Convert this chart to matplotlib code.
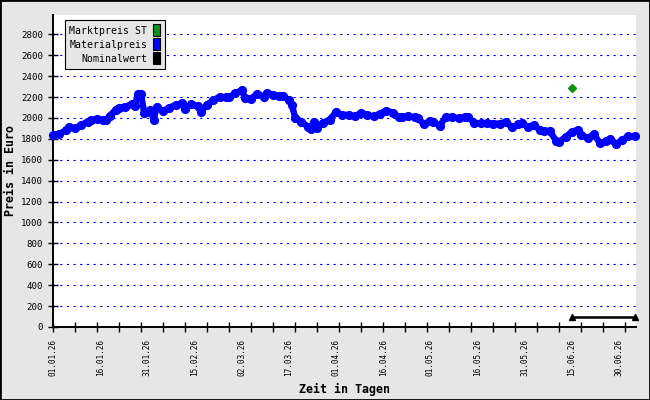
import matplotlib
matplotlib.use('Agg')
import matplotlib.pyplot as plt
from matplotlib.patches import Patch, Rectangle

# days counted from 01.01.26
days = [0, 2, 4, 5, 7, 9, 11, 12, 14, 16, 17, 18, 20, 21, 23, 25, 26, 27, 28, 29,
        30, 31, 32, 33, 35, 37, 39, 41, 42, 44, 46, 47, 49, 51, 53, 55, 56, 58, 60, 61,
        63, 65, 67, 68, 70, 72, 73, 75, 76, 77, 79, 81, 82, 83, 84, 86, 88, 90, 92, 94,
        96, 98, 100, 102, 104, 106, 108, 110, 111, 113, 115, 116, 118, 120, 121, 123, 125, 127, 129, 131,
        132, 134, 136, 138, 140, 142, 144, 146, 148, 149, 151, 153, 155, 156, 158, 160, 161, 163, 165, 167,
        168, 170, 172, 174, 176, 177, 179, 181, 183, 185]
material = [1838, 1848, 1880, 1911, 1901, 1933, 1965, 1981, 1987, 1984, 1981, 2020, 2080, 2100, 2108, 2133, 2114, 2225, 2229, 2048,
            2060, 2076, 1981, 2108, 2065, 2100, 2124, 2140, 2082, 2133, 2110, 2060, 2128, 2171, 2203, 2197, 2200, 2235, 2267, 2195,
            2185, 2232, 2203, 2241, 2222, 2212, 2210, 2171, 2124, 2003, 1965, 1917, 1892, 1965, 1908, 1956, 1984, 2055, 2027, 2030,
            2014, 2050, 2025, 2016, 2042, 2070, 2052, 2008, 2012, 2016, 2006, 2000, 1940, 1974, 1962, 1927, 2012, 2005, 1998, 2008,
            2010, 1950, 1948, 1948, 1946, 1946, 1962, 1910, 1940, 1952, 1916, 1932, 1880, 1876, 1876, 1780, 1771, 1819, 1867, 1889,
            1840, 1806, 1844, 1756, 1780, 1795, 1750, 1787, 1825, 1826]

markt_days = [165]
markt_price = [2290]

nominal_days = [165, 185.2]
nominal_value = [100, 100]

label_days = [0, 15, 30, 45, 60, 75, 90, 105, 120, 135, 150, 165, 180]
date_labels = ['01.01.26', '16.01.26', '31.01.26', '15.02.26', '02.03.26', '17.03.26', '01.04.26',
               '16.04.26', '01.05.26', '16.05.26', '31.05.26', '15.06.26', '30.06.26']
week_days = list(range(0, 186, 7))
y_ticks = list(range(0, 2801, 200))

bg = '#e6e6e6'
mono = 'DejaVu Sans Mono'

fig = plt.figure(figsize=(6.5, 4), dpi=100, facecolor=bg)
ax = fig.add_axes([53 / 650, 73 / 400, 583 / 650, 312 / 400])
ax.set_facecolor('white')

ax.set_xlim(0, 185.4)
ax.set_ylim(0, 2985)

ax.yaxis.grid(True, color='#0000ff', linestyle=(0, (2, 4)), linewidth=0.8)
ax.set_axisbelow(True)

ax.plot(days, material, '-o', color='#0000ff', lw=4.6, ms=5.6, mec='#0000ff',
        solid_joinstyle='round', solid_capstyle='round', clip_on=False, zorder=4)
ax.plot(markt_days, markt_price, 'D', color='#109010', ms=3.8, zorder=5)
ax.plot(nominal_days, nominal_value, '-^', color='black', lw=1.8, ms=5,
        clip_on=False, zorder=5)

for s in ['top', 'right']:
    ax.spines[s].set_visible(False)
for s in ['left', 'bottom']:
    ax.spines[s].set_linewidth(1.4)

ax.set_yticks(y_ticks)
ax.set_yticklabels([str(v) for v in y_ticks], fontfamily=mono, fontsize=6.6)
ax.tick_params(axis='y', direction='inout', length=7.2, width=1, pad=3.4)

ax.xaxis.remove_overlapping_locs = False
ax.set_xticks(week_days)
ax.set_xticklabels([])
ax.set_xticks(label_days, minor=True)
ax.set_xticklabels(date_labels, minor=True, rotation=90, fontfamily=mono, fontsize=5.6)
ax.tick_params(axis='x', which='major', direction='inout', length=7.2, width=1)
ax.tick_params(axis='x', which='minor', length=0, pad=8.6)

ax.set_xlabel('Zeit in Tagen', fontfamily=mono, fontsize=8.4, fontweight='bold')
ax.xaxis.set_label_coords(0.5, -0.178)
ax.set_ylabel('Preis in Euro', fontfamily=mono, fontsize=8.4, fontweight='bold')
ax.yaxis.set_label_coords(-0.062, 0.5)

handles = [Patch(facecolor='#10901a', edgecolor='black', lw=0.8),
           Patch(facecolor='#0000ff', edgecolor='black', lw=0.8),
           Patch(facecolor='black', edgecolor='black', lw=0.8)]
leg = ax.legend(handles, ['Marktpreis ST', 'Materialpreis', 'Nominalwert'],
                loc='upper left', bbox_to_anchor=(12 / 583, 307 / 312), borderaxespad=0,
                markerfirst=False, fancybox=False, framealpha=1, facecolor=bg,
                edgecolor='black', prop={'family': mono, 'size': 7.1},
                handlelength=0.7, handleheight=1.5, labelspacing=0.2,
                handletextpad=0.6, borderpad=0.45)
leg.get_frame().set_linewidth(0.8)
for col in leg._legend_handle_box.get_children():
    col.align = 'right'

fig.patches.append(Rectangle((0, 0), 1, 1, transform=fig.transFigure, fill=False,
                             edgecolor='black', lw=2, zorder=10))

fig.savefig('out.png', dpi=100, facecolor=bg)
